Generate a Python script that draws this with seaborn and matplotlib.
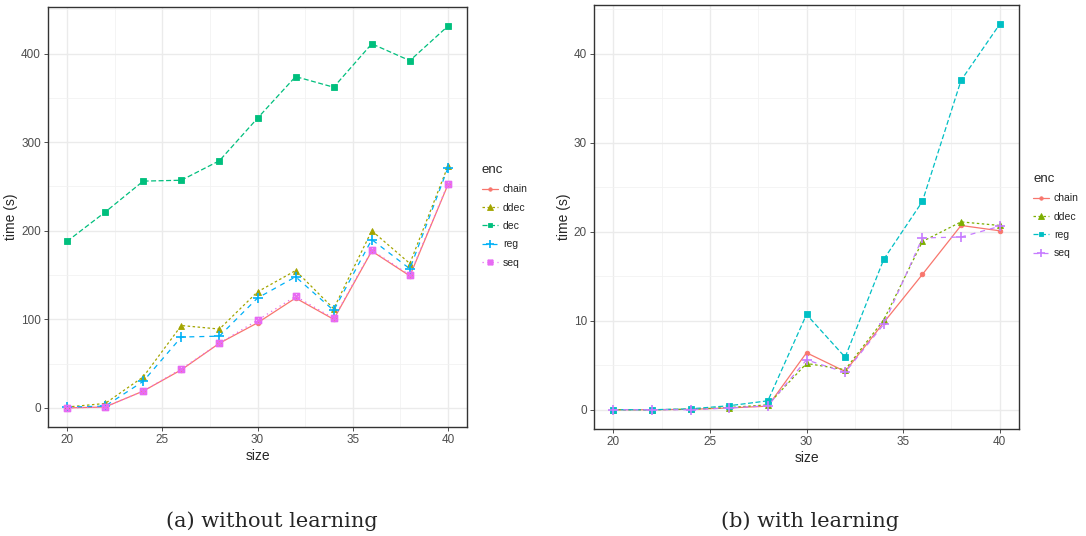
import matplotlib
matplotlib.use("Agg")
import matplotlib.pyplot as plt
import seaborn as sns
import pandas as pd
from matplotlib.path import Path
from matplotlib.ticker import MultipleLocator

sizes = [20, 22, 24, 26, 28, 30, 32, 34, 36, 38, 40]

# (a) without learning
nl_encs = ["chain", "ddec", "dec", "reg", "seq"]
nl_chain = [0, 1, 19, 43, 73, 96, 124, 100, 177, 149, 252]
nl_ddec = [1, 5, 35, 93, 89, 131, 155, 112, 200, 163, 273]
nl_dec = [188, 221, 256, 257, 279, 327, 374, 362, 411, 392, 431]
nl_reg = [1, 2, 30, 80, 81, 124, 148, 110, 190, 157, 271]
nl_seq = [0, 1, 19, 44, 73, 99, 126, 101, 178, 150, 253]

# (b) with learning
wl_encs = ["chain", "ddec", "reg", "seq"]
wl_chain = [0, 0, 0.05, 0.2, 0.4, 6.4, 4.3, 9.8, 15.2, 20.7, 20.1]
wl_ddec = [0, 0, 0.05, 0.25, 0.55, 5.2, 4.5, 10.1, 18.9, 21.1, 20.7]
wl_reg = [0, 0, 0.1, 0.45, 1.0, 10.7, 5.9, 16.9, 23.4, 37.0, 43.3]
wl_seq = [0, 0, 0, 0.2, 0.45, 5.6, 4.2, 9.6, 19.3, 19.4, 20.6]

# square with a cross (ggplot shape 7)
boxx = Path([(-1, -1), (1, -1), (1, 1), (-1, 1), (-1, -1), (-1, -1), (1, 1), (-1, 1), (1, -1)],
            [Path.MOVETO, Path.LINETO, Path.LINETO, Path.LINETO, Path.CLOSEPOLY,
             Path.MOVETO, Path.LINETO, Path.MOVETO, Path.LINETO])

nl_style = {
    "chain": ("#F8766D", "o", "-", 3.3),
    "ddec": ("#A3A500", "^", (0, (2, 2)), 5),
    "dec": ("#00BF7D", "s", (0, (4, 2)), 4.5),
    "reg": ("#00B0F6", "+", (0, (4, 4)), 7),
    "seq": ("#E76BF3", boxx, (0, (1, 3)), 4.3),
}
wl_style = {
    "chain": ("#F8766D", "o", "-", 3.3),
    "ddec": ("#7CAE00", "^", (0, (2, 2)), 5),
    "reg": ("#00BFC4", "s", (0, (4, 2)), 4.5),
    "seq": ("#C77CFF", "+", (0, (4, 4)), 7),
}

nl_df = pd.DataFrame({"size": sizes * 5,
                      "time": nl_chain + nl_ddec + nl_dec + nl_reg + nl_seq,
                      "enc": [e for e in nl_encs for _ in sizes]})
wl_df = pd.DataFrame({"size": sizes * 4,
                      "time": wl_chain + wl_ddec + wl_reg + wl_seq,
                      "enc": [e for e in wl_encs for _ in sizes]})

sns.set_style("white")
plt.rcParams["font.family"] = ["Liberation Sans", "DejaVu Sans"]

W, H = 1086, 536
fig = plt.figure(figsize=(W / 100, H / 100), dpi=100)


def px_axes(l, t, r, b):
    return fig.add_axes([l / W, 1 - b / H, (r - l) / W, (b - t) / H])


def draw_panel(ax, df, styles, legend_xy):
    for enc, (c, m, ls, ms) in styles.items():
        sub = df[df["enc"] == enc]
        filled = m not in ("+",) and not isinstance(m, Path)
        sns.lineplot(data=sub, x="size", y="time", ax=ax, color=c, marker=m,
                     linestyle=ls, linewidth=0.9, markersize=ms,
                     markeredgecolor=c, markerfacecolor=c if filled else "none",
                     markeredgewidth=0.6 if filled else 1.2, label=enc)
    lo, hi = df["time"].min(), df["time"].max()
    pad = (hi - lo) * 0.05
    ax.set_ylim(lo - pad, hi + pad)
    ax.set_xlim(19, 41)
    ax.xaxis.set_major_locator(MultipleLocator(5))
    ax.xaxis.set_minor_locator(MultipleLocator(2.5))
    ax.yaxis.set_minor_locator(MultipleLocator((ax.get_yticks()[1] - ax.get_yticks()[0]) / 2))
    ax.grid(which="major", color="#EBEBEB", linewidth=1.0)
    ax.grid(which="minor", color="#F2F2F2", linewidth=0.6)
    ax.set_axisbelow(True)
    for s in ax.spines.values():
        s.set_color("#333333")
        s.set_linewidth(1.0)
    ax.tick_params(which="major", direction="out", length=3, width=0.6, color="#333333",
                   labelsize=8.5, labelcolor="#4D4D4D", pad=2, bottom=True, left=True)
    ax.tick_params(which="minor", length=0)
    ax.set_xlabel("size", fontsize=10, labelpad=2)
    ax.set_ylabel("time (s)", fontsize=10, labelpad=2)
    leg = ax.legend(loc="upper left", bbox_to_anchor=legend_xy, bbox_transform=fig.transFigure,
                    frameon=False, title="enc", fontsize=7.5, title_fontsize=9.5,
                    handlelength=1.5, handletextpad=0.5, labelspacing=0.8,
                    borderpad=0, borderaxespad=0, alignment="left")
    for h in leg.legend_handles:
        h.set_markersize(h.get_markersize() * 0.75)
    return leg


ax1 = px_axes(48, 7, 467, 427)
ax1.yaxis.set_major_locator(MultipleLocator(100))
draw_panel(ax1, nl_df, nl_style, (482 / W, 1 - 164 / H))

ax2 = px_axes(594, 5, 1019, 429)
ax2.yaxis.set_major_locator(MultipleLocator(10))
draw_panel(ax2, wl_df, wl_style, (1033 / W, 1 - 173 / H))

cap = dict(fontsize=15, family=["DejaVu Serif"], ha="center", va="baseline")
fig.text(272 / W, 1 - 527 / H, "(a) without learning", **cap)
fig.text(810 / W, 1 - 527 / H, "(b) with learning", **cap)

fig.savefig("out.png", dpi=100)
